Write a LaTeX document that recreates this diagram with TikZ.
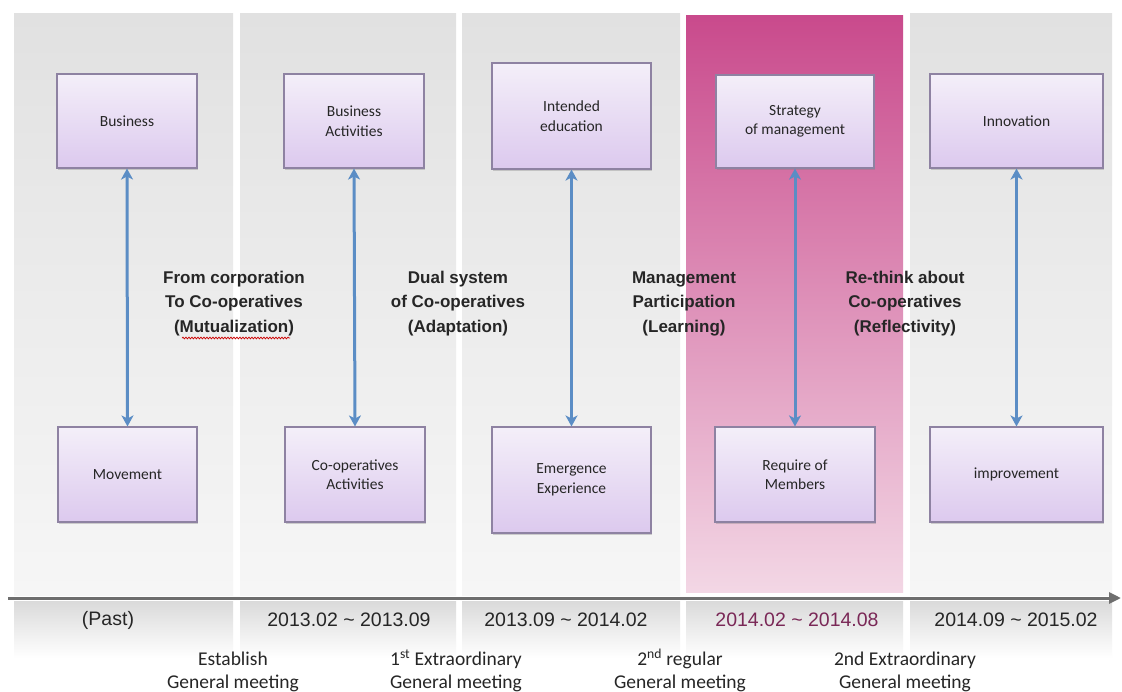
\documentclass[tikz,border=0pt]{standalone}
\usepackage{fontspec}
\newfontfamily\carl{Carlito}
\newfontfamily\arial{Liberation Sans}
\usetikzlibrary{arrows.meta,shadows,decorations.pathmorphing}
\definecolor{panelTop}{HTML}{E1E1E1}
\definecolor{panelMid}{HTML}{ECECEC}
\definecolor{panelBot}{HTML}{F6F6F6}
\definecolor{pinkTop}{HTML}{C94A8C}
\definecolor{pinkMid}{HTML}{DC8BB7}
\definecolor{pinkBot}{HTML}{F3D7E5}
\definecolor{boxTop}{HTML}{F4EFF9}
\definecolor{boxBot}{HTML}{DCC9EE}
\definecolor{boxLine}{HTML}{8E82A2}
\definecolor{arrowBlue}{HTML}{5B8DC5}
\definecolor{axisGray}{HTML}{6E6E6E}
\definecolor{dateMagenta}{HTML}{7A2857}
\definecolor{bandTop}{HTML}{DADADA}
\begin{document}
\begin{tikzpicture}[x=1pt,y=-1pt,
  panel/.style={top color=panelTop, bottom color=panelBot, middle color=panelMid, draw=none},
  band/.style={top color=bandTop, bottom color=white, draw=none},
  box/.style={draw=boxLine, line width=1.1pt, top color=boxTop, bottom color=boxBot,
    align=center, inner sep=2pt, font=\carl\fontsize{15.5}{19.5}\selectfont, text=black!85,
    drop shadow={opacity=0.35, shadow xshift=1.2pt, shadow yshift=-1.8pt}},
  conn/.style={draw=arrowBlue, line width=3pt, {Stealth[length=11pt,width=12pt,inset=3pt]}-{Stealth[length=11pt,width=12pt,inset=3pt]}},
  theme/.style={align=center, font=\arial\bfseries\fontsize{17}{24.5}\selectfont, text=black!85},
  datelbl/.style={font=\arial\fontsize{19.5}{22}\selectfont, text=black!85},
  meetlbl/.style={align=center, font=\carl\fontsize{19.5}{22.5}\selectfont, text=black!85},
  axis/.style={draw=axisGray, line width=3pt, -{Triangle[length=12pt,width=11pt]}}
]
\useasboundingbox (0,0) rectangle (1122,691);
\fill[white] (0,0) rectangle (1122,691);

% column panels
\path[panel] (14,13) rectangle (233,595);
\path[panel] (240,13) rectangle (456,595);
\path[panel] (462,13) rectangle (680,595);
\path[top color=pinkTop, middle color=pinkMid, bottom color=pinkBot] (686,15) rectangle (903,592);
\path[panel] (910,13) rectangle (1112,595);

% lower bands
\path[band] (14,601) rectangle (233,658);
\path[band] (240,601) rectangle (456,658);
\path[band] (462,601) rectangle (680,658);
\path[band] (686,601) rectangle (903,658);
\path[band] (910,601) rectangle (1112,658);

% timeline
\coordinate (tl0) at (8,598);
\coordinate (tl1) at (1121,598);
\draw[axis] (tl0) -- (tl1);

% top boxes
\node[box, minimum width=140pt, minimum height=94pt] (t1) at (127,121) {Business};
\node[box, minimum width=140pt, minimum height=94pt] (t2) at (354,121) {Business\\Activities};
\node[box, minimum width=159pt, minimum height=106pt] (t3) at (571.5,116) {Intended\\education};
\node[box, minimum width=158pt, minimum height=93pt] (t4) at (795,121.5) {Strategy\\of management};
\node[box, minimum width=173pt, minimum height=94pt] (t5) at (1016.5,121) {Innovation};

% bottom boxes
\node[box, minimum width=139pt, minimum height=95pt] (b1) at (127.5,474.5) {Movement};
\node[box, minimum width=140pt, minimum height=95pt] (b2) at (355,474.5) {Co-operatives\\Activities};
\node[box, minimum width=159pt, minimum height=106pt] (b3) at (571.5,480) {Emergence\\Experience};
\node[box, minimum width=160pt, minimum height=95pt] (b4) at (795,474.5) {Require of\\Members};
\node[box, minimum width=173pt, minimum height=95pt] (b5) at (1016.5,474.5) {improvement};

% connectors
\draw[conn] (t1.south) -- (b1.north);
\draw[conn] (t2.south) -- (b2.north);
\draw[conn] (t3.south) -- (b3.north);
\draw[conn] (t4.south) -- (b4.north);
\draw[conn] (t5.south) -- (b5.north);

% theme labels
\node[theme] (l1) at (234,303.5) {From corporation\\To Co-operatives\\(Mutualization)};
\node[theme] (l2) at (458,303.5) {Dual system\\of Co-operatives\\(Adaptation)};
\node[theme] (l3) at (684,303.5) {Management\\Participation\\(Learning)};
\node[theme] (l4) at (905,303.5) {Re-think about\\Co-operatives\\(Reflectivity)};
\draw[red!80!black, line width=0.7pt, decorate, decoration={snake, amplitude=0.9pt, segment length=3pt}] (182,338) -- (290,338);

% dates
\node[datelbl] (d1) at (108,620) {(Past)};
\node[datelbl] (d2) at (349,620) {2013.02 \textasciitilde{} 2013.09};
\node[datelbl] (d3) at (566,620) {2013.09 \textasciitilde{} 2014.02};
\node[datelbl, text=dateMagenta] (d4) at (797,620) {2014.02 \textasciitilde{} 2014.08};
\node[datelbl] (d5) at (1016,620) {2014.09 \textasciitilde{} 2015.02};

% meetings
\node[meetlbl] (m1) at (233,672) {Establish\\General meeting};
\node[meetlbl] (m2) at (456,672) {1\smash{\textsuperscript{st}} Extraordinary\\General meeting};
\node[meetlbl] (m3) at (680,672) {2\smash{\textsuperscript{nd}} regular\\General meeting};
\node[meetlbl] (m4) at (905,672) {2nd Extraordinary\\General meeting};
\end{tikzpicture}
\end{document}
